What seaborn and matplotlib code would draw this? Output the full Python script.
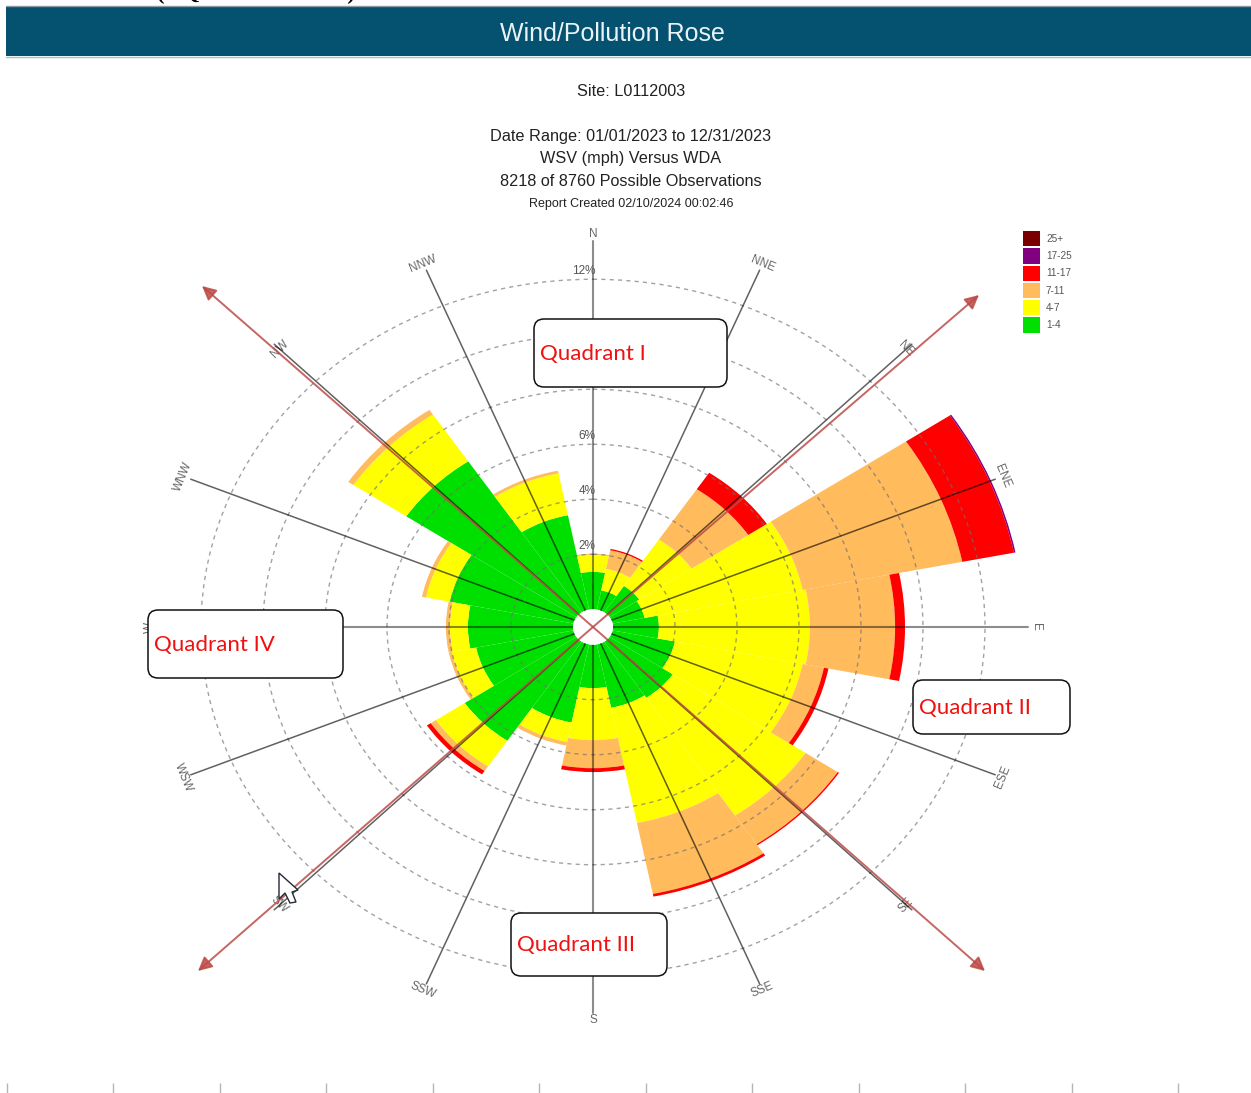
# wind / pollution rose, report page

import matplotlib
matplotlib.use("Agg")
import matplotlib.pyplot as plt
from matplotlib.patches import FancyBboxPatch, Polygon
import numpy as np
import seaborn as sns

W, H = 1251, 1093

# sektori, od severa u smeru kazaljke
directions = ["N", "NNE", "NE", "ENE", "E", "ESE", "SE", "SSE",
              "S", "SSW", "SW", "WSW", "W", "WNW", "NW", "NNW"]

# procenat vremena po klasi brzine (mph)
speed_bands = ["1-4", "4-7", "7-11", "11-17", "17-25", "25+"]
band_colors = ["#00e000", "#ffff00", "#ffbb5c", "#ff0000", "#800080", "#7a0000"]
pct_1_4 = [1.36, 0.71, 1.15, 1.05, 1.48, 2.05, 2.45, 2.35, 1.58, 2.90, 4.33, 3.20, 3.39, 4.07, 6.60, 3.50]
pct_4_7 = [0.62, 0.80, 2.03, 5.20, 4.87, 4.20, 5.15, 4.27, 1.89, 0.72, 1.12, 0.80, 0.58, 0.78, 2.05, 1.55]
pct_7_11 = [0.04, 0.69, 2.20, 5.25, 2.75, 0.70, 1.25, 2.63, 1.02, 0.13, 0.20, 0.10, 0.13, 0.13, 0.20, 0.10]
pct_11_17 = [0, 0.05, 0.72, 1.70, 0.32, 0.15, 0.05, 0.10, 0.14, 0, 0.15, 0, 0, 0, 0, 0]
pct_17_25 = [0, 0, 0, 0.05, 0, 0, 0, 0, 0, 0, 0, 0, 0, 0, 0, 0]
pct_25 = [0] * 16

ring_values = [2, 4, 6, 8, 10, 12]

title_lines = ["Site: L0112003", "Date Range: 01/01/2023 to 12/31/2023",
               "WSV (mph) Versus WDA", "8218 of 8760 Possible Observations"]
report_line = "Report Created 02/10/2024 00:02:46"

# kutije sa kvadrantima: tekst, x0, y0, x1, y1
quadrants = [("Quadrant I", 534, 319, 727, 387),
             ("Quadrant II", 913, 680, 1070, 734),
             ("Quadrant III", 511, 913, 667, 976),
             ("Quadrant IV", 148, 610, 343, 678)]
arrow_tips = [(979, 295), (202, 286), (198, 971), (985, 971)]
cursor = [(279, 873), (279, 899), (285, 893), (290, 903), (296, 902), (292, 892), (298, 890)]

sns.set_theme(style="white")
plt.rcParams["font.family"] = ["Liberation Sans", "DejaVu Sans"]

fig = plt.figure(figsize=(W / 100, H / 100), dpi=100)

# 1) ruza (elipsa kao na originalu, pa aspect auto)
cx, cy = 593, 627
rmax, hole = 14.2, 0.645
half_w = (rmax + hole) * 31
half_h = (rmax + hole) * 27.5
ax = fig.add_axes([(cx - half_w) / W, 1 - (cy + half_h) / H, 2 * half_w / W, 2 * half_h / H],
                  projection="polar")
ax.set_aspect("auto")
ax.set_theta_zero_location("N")
ax.set_theta_direction(-1)
ax.patch.set_alpha(0)
ax.spines["polar"].set_visible(False)
# draw() sam pali "inner" kad postoji rorigin, pa samo debljina 0
ax.spines["inner"].set_linewidth(0)

theta = np.deg2rad(np.arange(16) * 22.5)
bottom = np.zeros(16)
series = [pct_1_4, pct_4_7, pct_7_11, pct_11_17, pct_17_25, pct_25]
for name, color, vals in zip(speed_bands, band_colors, series):
    ax.bar(theta, vals, width=2 * np.pi / 16, bottom=bottom, color=color, linewidth=0, label=name)
    bottom = bottom + np.array(vals)

ax.set_rorigin(-hole)
ax.set_rlim(0, rmax)
ax.set_xticks([])
ax.set_yticks(ring_values)
ax.set_yticklabels([])
ax.set_axisbelow(False)
ax.yaxis.grid(True, color="#707070", linestyle=(0, (3, 3)), linewidth=1, alpha=0.65)

for i, (t, name) in enumerate(zip(theta, directions)):
    major = i % 4 == 0
    end = 13.9 if i % 4 == 2 else 13.4  # dijagonale idu do samih oznaka
    ax.plot([t, t], [0, end], color="black", alpha=0.45 if major else 0.62,
            linewidth=1.5 if major else 1.1, zorder=4)
    deg = i * 22.5
    rot = -deg if deg <= 90 else (180 - deg if deg < 270 else 360 - deg)
    ax.text(t, 13.65, name, rotation=rot, rotation_mode="anchor", ha="center", va="center",
            fontsize=8.5, color="#666666")

for v in ring_values:
    ax.annotate(f"{v}%", xy=(0, v), xytext=(2, 6), textcoords="offset points",
                ha="right", va="center", fontsize=8.5, color="#555555", zorder=5)

handles, labels = ax.get_legend_handles_labels()
leg = fig.legend(handles[::-1], labels[::-1], loc="upper left", bbox_to_anchor=(1020 / W, 1 - 228 / H),
                 frameon=False, fontsize=7.2, handlelength=1.7, handleheight=2.0, labelspacing=0.18,
                 handletextpad=0.6, borderpad=0.3, borderaxespad=0)
for txt in leg.get_texts():
    txt.set_color("#555555")

# 2) sloj u pikselima: naslov, strelice, kutije
over = fig.add_axes([0, 0, 1, 1], zorder=5)
over.set_xlim(0, W)
over.set_ylim(H, 0)
over.axis("off")

# gornji red je odsecen i na originalu
over.text(40, -1, "Wind Rose (AQS Annual Data)", family="Liberation Serif", fontweight="bold",
          fontsize=17, va="baseline", color="black")
over.fill_between([6, W], 6, 56, color="#04526f", linewidth=0)
over.plot([6, W], [56.5, 56.5], color="#9fc3d0", linewidth=1)
over.plot([6, W], [5.5, 5.5], color="#8a9ba5", linewidth=1)
over.text(612, 34, "Wind/Pollution Rose", color="#eaf4f8", fontsize=18, ha="center", va="center")

for line, y in zip(title_lines, [91.5, 136.5, 158.5, 182]):
    over.text(631, y, line, fontsize=11.7, color="#222222", ha="center", va="center")
over.text(631, 204, report_line, fontsize=9, color="#222222", ha="center", va="center")

for tip in arrow_tips:
    over.annotate("", xy=tip, xytext=(cx, cy),
                  arrowprops=dict(arrowstyle="-|>,head_length=0.7,head_width=0.35", color="#bc4b47",
                                  alpha=0.85, linewidth=1.4, shrinkA=0, shrinkB=0))

for label, x0, y0, x1, y1 in quadrants:
    over.add_patch(FancyBboxPatch((x0, y0), x1 - x0, y1 - y0, boxstyle="round,pad=0,rounding_size=10",
                                  facecolor="white", edgecolor="#111111", linewidth=1.1, zorder=6))
    over.text(x0 + 6, (y0 + y1) / 2 + 1, label, family="Lato", color="#f01010", fontsize=16,
              ha="left", va="center", zorder=7)

over.add_patch(Polygon(cursor, closed=True, facecolor="white", edgecolor="#222a35", linewidth=1, zorder=8))

over.vlines(np.arange(12) * 106.5 + 6.5, 1083, H, color="#b5b5b5", linewidth=1)

fig.savefig("out.png", dpi=100)
plt.close(fig)
